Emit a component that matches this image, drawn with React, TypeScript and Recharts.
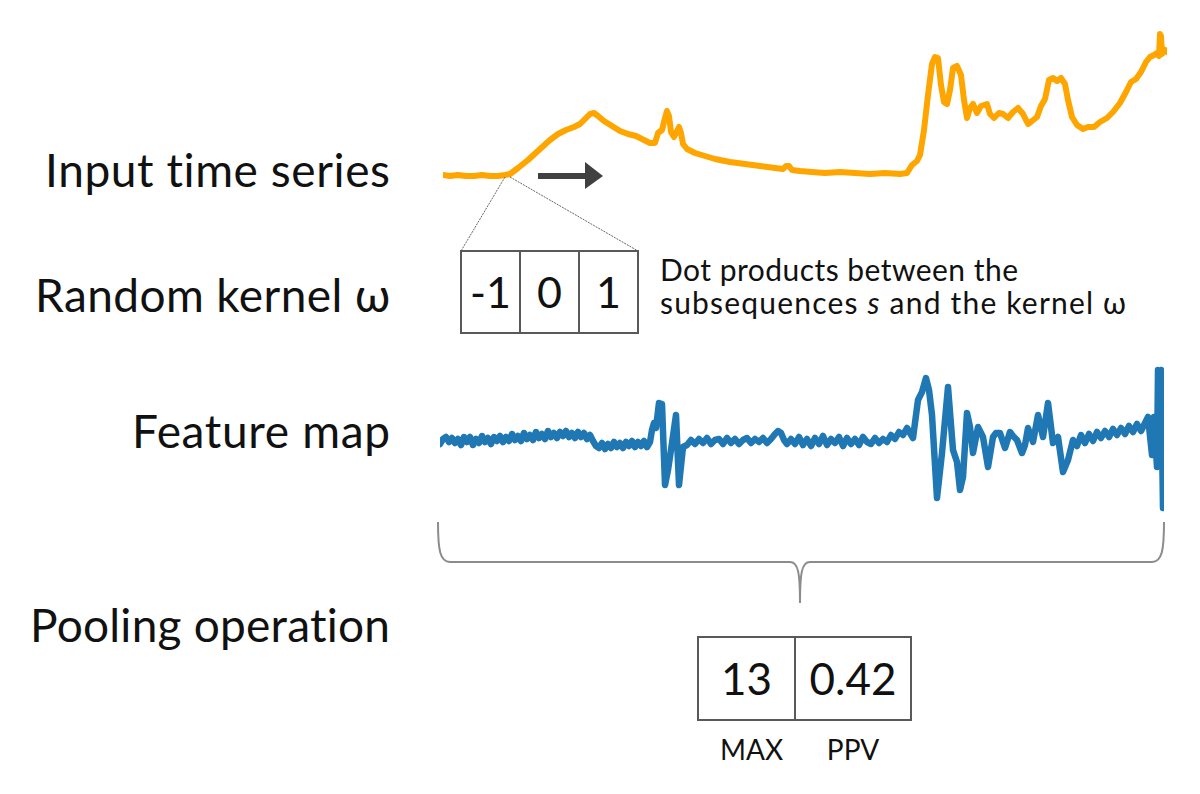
import { LineChart, Line, XAxis, YAxis } from 'recharts';

// row captions on the left
const rowLabels = ['Input time series', 'Random kernel ω', 'Feature map', 'Pooling operation'];

// kernel weights and pooled features
const kernelWeights = ['-1', '0', '1'];
const poolNames = ['MAX', 'PPV'];
const poolValues = ['13', '0.42'];

// input time series (orange)
const inputX = [
  0, 7, 15, 23, 31, 39, 47, 55, 62, 67,
  75, 85, 97, 107, 115, 123, 131, 137, 143, 147,
  151, 155, 161, 169, 177, 185, 193, 199, 207, 212,
  215, 219, 222, 224, 226, 228, 231, 234, 236, 238,
  240, 244, 252, 262, 272, 287, 302, 317, 332, 340,
  343, 346, 349, 357, 369, 382, 397, 412, 427, 442,
  457, 464, 469, 474, 477, 481, 485, 489, 492, 495,
  498, 501, 504, 507, 510, 514, 518, 521, 524, 527,
  530, 534, 538, 544, 547, 551, 556, 560, 565, 570,
  575, 580, 585, 589, 594, 598, 602, 606, 610, 614,
  618, 622, 625, 629, 634, 640, 645, 651, 657, 664,
  670, 677, 683, 688, 693, 698, 703, 707, 711, 714,
  716, 717, 718, 719, 722, 724,
];
const inputY = [
  10, 9, 10, 9, 9, 10, 9, 9, 10, 11,
  17, 25, 36, 45, 51, 55, 58, 61, 67, 71,
  72, 69, 64, 59, 54, 51, 49, 46, 42, 42,
  52, 55, 67, 74, 69, 53, 48, 54, 58, 52,
  41, 36, 32, 29, 26, 23, 21, 19, 17, 16,
  19, 19, 15, 14, 13, 12, 13, 12, 11, 12,
  11, 12, 20, 24, 30, 55, 90, 121, 128, 127,
  100, 83, 81, 95, 117, 119, 110, 85, 67, 77,
  81, 72, 79, 81, 71, 67, 72, 71, 67, 73,
  77, 71, 61, 64, 68, 79, 86, 105, 107, 104,
  107, 101, 85, 68, 60, 56, 58, 58, 63, 67,
  73, 82, 93, 103, 106, 113, 123, 128, 130, 132,
  129, 151, 149, 131, 135, 133,
];

// feature map (blue)
const featureX = [
  0, 3, 6, 9, 12, 15, 18, 21, 24, 27,
  30, 33, 36, 39, 42, 45, 48, 51, 54, 57,
  60, 63, 66, 69, 72, 75, 78, 81, 84, 87,
  90, 93, 96, 99, 102, 105, 108, 111, 114, 117,
  120, 123, 126, 129, 132, 135, 138, 141, 144, 147,
  150, 153, 156, 159, 162, 165, 168, 171, 174, 177,
  180, 183, 186, 189, 192, 195, 198, 201, 204, 207,
  210, 212, 214, 216, 219, 222, 225, 228, 232, 236,
  239, 243, 247, 251, 255, 259, 263, 267, 271, 275,
  279, 283, 287, 291, 295, 299, 303, 307, 311, 315,
  319, 323, 327, 331, 335, 338, 341, 344, 347, 351,
  355, 359, 363, 367, 371, 375, 379, 383, 387, 391,
  395, 399, 403, 407, 411, 415, 419, 423, 427, 431,
  435, 439, 443, 447, 451, 455, 459, 463, 467, 473,
  478, 482, 486, 489, 492, 497, 502, 505, 508, 513,
  517, 520, 523, 527, 530, 533, 538, 543, 548, 553,
  556, 560, 565, 570, 573, 577, 582, 585, 588, 593,
  598, 603, 608, 613, 618, 623, 628, 633, 637, 641,
  645, 649, 653, 657, 661, 665, 669, 673, 677, 681,
  685, 689, 693, 697, 701, 705, 708, 712, 714, 717,
  718, 720, 721, 723,
];
const featureY = [
  76, 81, 83, 78, 82, 77, 81, 75, 83, 78,
  83, 75, 81, 77, 84, 78, 82, 76, 83, 79,
  84, 78, 83, 79, 86, 80, 84, 79, 87, 81,
  85, 80, 88, 82, 86, 81, 89, 83, 87, 82,
  88, 84, 89, 83, 87, 82, 88, 83, 87, 81,
  85, 79, 74, 72, 77, 71, 76, 72, 78, 73,
  77, 72, 78, 74, 79, 73, 78, 74, 79, 73,
  78, 90, 97, 92, 117, 116, 35, 50, 77, 105,
  35, 73, 75, 80, 76, 81, 77, 82, 76, 80,
  81, 76, 82, 77, 81, 76, 80, 82, 77, 81,
  78, 82, 77, 81, 86, 89, 87, 80, 76, 81,
  76, 83, 75, 81, 74, 82, 76, 84, 75, 81,
  77, 83, 74, 82, 76, 81, 75, 83, 78, 76,
  82, 77, 81, 78, 85, 81, 88, 85, 92, 82,
  120, 128, 142, 130, 105, 22, 67, 100, 133, 70,
  58, 30, 43, 107, 93, 67, 93, 83, 53, 83,
  87, 87, 72, 88, 84, 80, 67, 75, 92, 78,
  105, 83, 117, 77, 83, 48, 60, 80, 74, 85,
  77, 86, 79, 88, 82, 89, 83, 91, 85, 92,
  86, 94, 88, 96, 89, 97, 103, 65, 103, 53,
  150, 145, 150, 12,
];

const inputData = inputX.map((t, i) => ({ t, v: inputY[i] }));
const featureData = featureX.map((t, i) => ({ t, v: featureY[i] }));

const FONT = 'Lato, "Open Sans", sans-serif';

function SeriesChart({ data, color, left, top, width }: { data: { t: number; v: number }[]; color: string; left: number; top: number; width: number }) {
  return (
    <div style={{ position: 'absolute', left, top }}>
      <LineChart width={724} height={160} data={data} margin={{ top: 0, right: 0, bottom: 0, left: 0 }}>
        <XAxis type="number" dataKey="t" domain={[0, 724]} hide />
        <YAxis type="number" domain={[0, 160]} hide />
        <Line
          type="linear"
          dataKey="v"
          stroke={color}
          strokeWidth={width}
          strokeLinejoin="round"
          strokeLinecap="round"
          dot={false}
          isAnimationActive={false}
        />
      </LineChart>
    </div>
  );
}

export default function App() {
  const labelBaselines = [187, 312, 448, 642];
  const labelWidths = [345, 355, 258, 360];
  const kernelLeft = 461;
  const kernelCell = 59;
  const poolCells = [
    { x: 698, w: 97 },
    { x: 795, w: 116 },
  ];

  return (
    <div style={{ position: 'relative', width: 1200, height: 794, background: '#fff', overflow: 'hidden' }}>
      <style>{'body{margin:0}'}</style>

      <SeriesChart data={inputData} color="#FFA500" left={443} top={25} width={6} />
      <SeriesChart data={featureData} color="#1F77B4" left={440} top={360} width={6.5} />

      <svg
        width={1200}
        height={794}
        style={{ position: 'absolute', left: 0, top: 0, pointerEvents: 'none', fontVariantLigatures: 'none' }}
        fontFamily={FONT}
      >
        {rowLabels.map((label, i) => (
          <text
            key={label}
            x={390 - labelWidths[i]}
            y={labelBaselines[i]}
            fontSize={46}
            textLength={labelWidths[i]}
            lengthAdjust="spacing"
            fill="#111"
          >
            {label}
          </text>
        ))}

        {/* sliding direction arrow */}
        <rect x={538} y={173} width={48} height={6} fill="#404040" />
        <polygon points="585,162 603,176 585,189" fill="#404040" />

        {/* zoom lines to the kernel */}
        <line x1={505} y1={177} x2={461} y2={251} stroke="#666" strokeWidth={1} strokeDasharray="2 1" />
        <line x1={510} y1={177} x2={638} y2={251} stroke="#666" strokeWidth={1} strokeDasharray="2 1" />

        {/* kernel */}
        {kernelWeights.map((w, i) => (
          <g key={i}>
            <rect x={kernelLeft + i * kernelCell} y={251} width={kernelCell} height={82} fill="#fff" stroke="#595959" strokeWidth={2} />
            <text x={kernelLeft + i * kernelCell + kernelCell / 2} y={308} fontSize={43} textAnchor="middle" fill="#111">
              {w}
            </text>
          </g>
        ))}

        <text x={660} y={281} fontSize={30} textLength={358} lengthAdjust="spacing" fill="#111">Dot products between the</text>
        <text x={660} y={314} fontSize={30} textLength={466} lengthAdjust="spacing" fill="#111">
          subsequences <tspan fontStyle="italic">s</tspan> and the kernel ω
        </text>

        {/* brace */}
        <path
          d="M438,522 C438,550 440,562 450,562 L790,562 C798,562 800,572 800,603 C800,572 802,562 810,562 L1152,562 C1162,562 1164,550 1164,522"
          fill="none"
          stroke="#8c8c8c"
          strokeWidth={2}
        />

        {/* pooled features */}
        {poolCells.map((c, i) => (
          <g key={i}>
            <rect x={c.x} y={637} width={c.w} height={83} fill="#fff" stroke="#595959" strokeWidth={2} />
            <text x={c.x + c.w / 2} y={695} fontSize={44} textAnchor="middle" fill="#111">
              {poolValues[i]}
            </text>
            <text x={c.x + c.w / 2 + (i === 0 ? 5 : 0)} y={760} fontSize={28} textAnchor="middle" fill="#111">
              {poolNames[i]}
            </text>
          </g>
        ))}
      </svg>
    </div>
  );
}
